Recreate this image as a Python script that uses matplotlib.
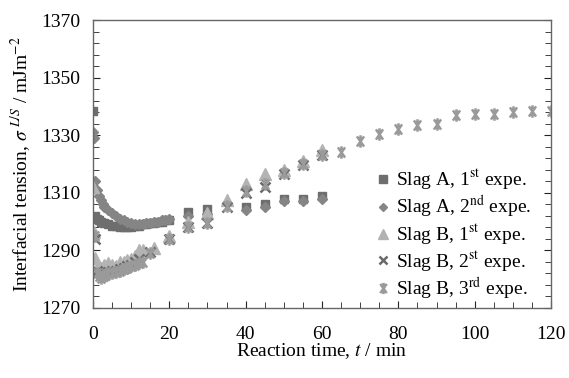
import matplotlib
matplotlib.use("Agg")
import matplotlib.pyplot as plt
from matplotlib.path import Path
from matplotlib.ticker import MultipleLocator
import numpy as np

plt.rcParams['font.family'] = ['Liberation Serif', 'DejaVu Serif']
plt.rcParams['mathtext.fontset'] = 'stix'

# ---- data ----
tA1 = [0, 0.5, 1, 1.5, 2, 3, 4, 5, 6, 7, 8, 9, 10, 11, 12, 13, 14, 15, 16, 17, 18, 19, 20, 25, 30, 40, 45, 50, 55, 60]
vA1 = [1338.5, 1302, 1301, 1300.5, 1300, 1299.5, 1299, 1298.5, 1298.5, 1298, 1298, 1298, 1298, 1298.5, 1298.5, 1299,
       1299, 1299.5, 1299.5, 1300, 1300, 1300.5, 1300.5, 1303.5, 1304.5, 1305, 1306, 1308, 1308, 1309]

tA2 = [0, 0.2, 0.5, 1, 1.5, 2, 2.5, 3, 4, 5, 6, 7, 8, 9, 10, 11, 12, 13, 14, 15, 16, 17, 18, 19, 20, 25, 30, 40, 45, 50, 55, 60]
vA2 = [1331, 1329, 1314, 1311, 1309, 1307.5, 1306, 1305, 1304, 1303, 1302, 1301, 1300.5, 1300, 1299.5, 1299, 1299,
       1299, 1299.5, 1299.5, 1300, 1300, 1300.5, 1300.5, 1301, 1302, 1302.5, 1304, 1305, 1307, 1307, 1308]

tB1 = [0, 0.3, 0.6, 1, 1.5, 2, 3, 4, 5, 6, 7, 8, 9, 10, 11, 12, 13, 16, 20, 25, 30, 35, 40, 45, 50, 55, 60]
vB1 = [1312, 1296.5, 1287.5, 1284, 1283, 1284, 1285, 1285.5, 1285, 1284.5, 1286, 1286, 1286.5, 1287, 1288, 1290,
       1290, 1291, 1295, 1300, 1303, 1307.5, 1313, 1316.5, 1318, 1321, 1325]

tB2 = [0.5, 1, 2, 3, 4, 5, 6, 7, 8, 9, 10, 11, 12, 15, 20, 25, 30, 35, 40, 45, 50, 55, 60]
vB2 = [1294, 1283, 1282, 1282, 1282.5, 1283, 1283, 1283.5, 1284, 1284.5, 1285, 1286, 1287, 1289.5, 1294, 1298,
       1299.5, 1305, 1310, 1312, 1316.5, 1319.5, 1323]

tB3 = [0.5, 1, 1.5, 2, 2.5, 3, 3.5, 4, 5, 6, 7, 8, 9, 10, 11, 12, 13, 15, 20, 25, 30, 35, 40, 45, 50, 55, 60,
       65, 70, 75, 80, 85, 90, 95, 100, 105, 110, 115, 120]
vB3 = [1295, 1282, 1281, 1280.5, 1281, 1281, 1281.5, 1282, 1282, 1282.5, 1283, 1283.5, 1284, 1284.5, 1285, 1285.5,
       1286, 1289, 1294, 1298, 1299.5, 1305.5, 1310.5, 1313, 1317, 1320, 1323, 1324, 1328, 1330.5, 1332, 1333.5,
       1334, 1337, 1337.5, 1337.5, 1338, 1338.5, 1338.5]

yticks = [1270, 1290, 1310, 1330, 1350, 1370]
xticks = [0, 20, 40, 60, 80, 100, 120]

labels = ["Slag A, 1$^{\\rm st}$ expe.", "Slag A, 2$^{\\rm nd}$ expe.", "Slag B, 1$^{\\rm st}$ expe.",
          "Slag B, 2$^{\\rm st}$ expe.", "Slag B, 3$^{\\rm rd}$ expe."]

# asterisk-like marker (X with vertical bar)
ang = np.deg2rad(55)
ast = Path([(0, -1), (0, 1), (-np.cos(ang), -np.sin(ang)), (np.cos(ang), np.sin(ang)),
            (-np.cos(ang), np.sin(ang)), (np.cos(ang), -np.sin(ang))],
           [Path.MOVETO, Path.LINETO, Path.MOVETO, Path.LINETO, Path.MOVETO, Path.LINETO])

fig = plt.figure(figsize=(5.69, 3.78), dpi=100)
ax = fig.add_axes([0.1634, 0.1852, 0.805, 0.7618])

ax.plot(tA1, vA1, ls='none', marker='s', ms=6, color='#6e6e6e', label=labels[0])
ax.plot(tA2, vA2, ls='none', marker='D', ms=5, color='#858585', label=labels[1])
ax.plot(tB1, vB1, ls='none', marker='^', ms=8, color='#b3b3b3', label=labels[2])
ax.plot(tB2, vB2, ls='none', marker='x', ms=7, mew=1.8, color='#6a6a6a', label=labels[3])
ax.plot(tB3, vB3, ls='none', marker=ast, ms=9, mew=1.8, color='#9a9a9a', label=labels[4])

ax.set_xlim(0, 120)
ax.set_ylim(1270, 1370)
ax.set_xticks(xticks)
ax.set_yticks(yticks)
ax.xaxis.set_minor_locator(MultipleLocator(5))
ax.set_yticks(np.arange(1270, 1371, 4), minor=True)
ax.tick_params(axis='both', which='both', direction='in', labelsize=14, color='#222222')
ax.tick_params(axis='y', which='both', right=True)
ax.tick_params(axis='x', which='major', length=5, pad=13)
ax.tick_params(axis='y', which='major', length=5, pad=9)
ax.tick_params(which='minor', length=4)
for s in ax.spines.values():
    s.set_color('#666666')
    s.set_linewidth(1.0)

ax.set_xlabel("Reaction time, $t$ / min", fontsize=14, labelpad=-1)
ax.set_ylabel("Interfacial tension, $\\sigma^{\\ L/S}$ / mJm$^{-2}$", fontsize=14, labelpad=6)

leg = ax.legend(loc='center left', bbox_to_anchor=(0.59, 0.255), frameon=False, fontsize=14,
                handletextpad=0.2, labelspacing=0.1, handlelength=1.0, borderpad=0, markerscale=0.9)

fig.savefig("out.png", dpi=100)
